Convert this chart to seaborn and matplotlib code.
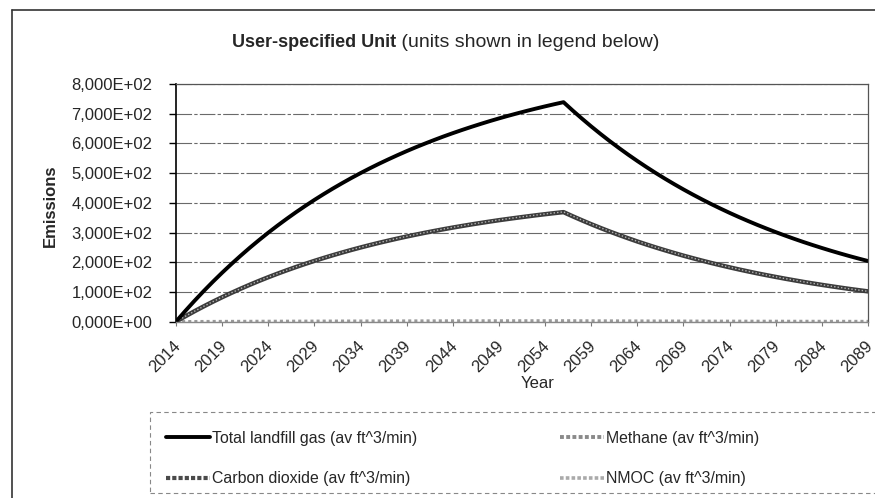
import matplotlib
matplotlib.use("Agg")
import matplotlib.pyplot as plt
import matplotlib.ticker as mticker
import matplotlib.transforms as mtrans
from matplotlib.lines import Line2D
from matplotlib.patches import Rectangle
import pandas as pd
import seaborn as sns

# ---------------- data ----------------
years = list(range(2014, 2090))
tick_years = list(range(2014, 2090, 5))

total_lfg = [0, 35.6, 69.8, 102.7, 134.3, 164.6, 193.7, 221.7, 248.7, 274.5,
             299.4, 323.2, 346.1, 368.2, 389.3, 409.7, 429.2, 448.0, 466.0, 483.4,
             500.0, 516.0, 531.4, 546.1, 560.3, 574.0, 587.1, 599.6, 611.7, 623.4,
             634.5, 645.2, 655.5, 665.4, 675.0, 684.1, 692.9, 701.3, 709.4, 717.2,
             724.7, 731.9, 738.8,
             710.5, 683.4, 657.2, 632.1, 607.9, 584.7, 562.3, 540.8, 520.1, 500.2,
             481.1, 462.7, 445.0, 428.0, 411.6, 395.8, 380.7, 366.1, 352.1, 338.7,
             325.7, 313.3, 301.3, 289.8, 278.7, 268.0, 257.8, 247.9, 238.4, 229.3,
             220.5, 212.1, 204.0]

methane = [0, 17.8, 34.9, 51.4, 67.2, 82.3, 96.9, 110.9, 124.4, 137.3,
           149.7, 161.6, 173.1, 184.1, 194.7, 204.9, 214.6, 224.0, 233.0, 241.7,
           250.0, 258.0, 265.7, 273.1, 280.2, 287.0, 293.6, 299.8, 305.9, 311.7,
           317.3, 322.6, 327.8, 332.7, 337.5, 342.1, 346.5, 350.7, 354.7, 358.6,
           362.4, 366.0, 369.4,
           355.3, 341.7, 328.6, 316.1, 304.0, 292.4, 281.2, 270.4, 260.1, 250.1,
           240.6, 231.4, 222.5, 214.0, 205.8, 197.9, 190.4, 183.1, 176.1, 169.4,
           162.9, 156.7, 150.7, 144.9, 139.4, 134.0, 128.9, 124.0, 119.2, 114.7,
           110.3, 106.1, 102.0]

carbon_dioxide = [0, 17.7, 34.8, 51.2, 67.0, 82.1, 96.6, 110.6, 124.1, 137.0,
                  149.4, 161.3, 172.7, 183.7, 194.3, 204.4, 214.1, 223.5, 232.5, 241.2,
                  249.5, 257.5, 265.2, 272.5, 279.6, 286.4, 292.9, 299.2, 305.2, 311.0,
                  316.6, 321.9, 327.1, 332.0, 336.8, 341.4, 345.7, 349.9, 353.9, 357.9,
                  361.6, 365.2, 368.6,
                  354.5, 341.0, 327.9, 315.4, 303.3, 291.8, 280.6, 269.8, 259.5, 249.6,
                  240.1, 230.9, 222.0, 213.6, 205.4, 197.5, 190.0, 182.7, 175.7, 169.0,
                  162.5, 156.3, 150.4, 144.6, 139.1, 133.7, 128.6, 123.7, 119.0, 114.4,
                  110.0, 105.8, 101.8]

nmoc = [0, 0.14, 0.28, 0.41, 0.54, 0.66, 0.77, 0.89, 0.99, 1.10,
        1.20, 1.29, 1.38, 1.47, 1.56, 1.64, 1.72, 1.79, 1.86, 1.93,
        2.00, 2.06, 2.13, 2.18, 2.24, 2.30, 2.35, 2.40, 2.45, 2.49,
        2.54, 2.58, 2.62, 2.66, 2.70, 2.74, 2.77, 2.81, 2.84, 2.87,
        2.90, 2.93, 2.96,
        2.84, 2.73, 2.63, 2.53, 2.43, 2.34, 2.25, 2.16, 2.08, 2.00,
        1.92, 1.85, 1.78, 1.71, 1.65, 1.58, 1.52, 1.46, 1.41, 1.35,
        1.30, 1.25, 1.21, 1.16, 1.11, 1.07, 1.03, 0.99, 0.95, 0.92,
        0.88, 0.85, 0.82]

series_labels = ["Total landfill gas (av ft^3/min)", "Methane (av ft^3/min)",
                 "Carbon dioxide (av ft^3/min)", "NMOC (av ft^3/min)"]
y_ticks = [0, 100, 200, 300, 400, 500, 600, 700, 800]

df = pd.DataFrame({"Year": years, "total": total_lfg, "methane": methane,
                   "co2": carbon_dioxide, "nmoc": nmoc})

# ---------------- figure ----------------
sns.set_theme(style="white")
plt.rcParams["font.family"] = ["Liberation Sans", "DejaVu Sans"]

W, H = 875, 498
fig = plt.figure(figsize=(W / 100, H / 100), dpi=100)


def fx(px):
    return px / W


def fy(py):
    return 1 - py / H


ax_left, ax_right, ax_top, ax_bot = 176, 868, 84, 321.6
ax = fig.add_axes([fx(ax_left), fy(ax_bot), fx(ax_right - ax_left), (ax_bot - ax_top) / H])

# grid
ax.set_axisbelow(True)
ax.yaxis.grid(True, color="#6a6a6a", lw=0.8, linestyle=(0, (14, 2, 3, 2)))

# series
sty = {
    "total": dict(color="black", lw=2.8),
    "co2": dict(color="#3c3c3c", lw=3.2),
    "methane": dict(color="#b4b4b4", lw=1.0, linestyle=(0, (1, 1.5))),
    "nmoc": dict(color="#9a9a9a", lw=2.2, linestyle=(0, (1, 1))),
}
sns.lineplot(data=df, x="Year", y="nmoc", ax=ax, legend=False, **sty["nmoc"])
sns.lineplot(data=df, x="Year", y="co2", ax=ax, legend=False, **sty["co2"])
sns.lineplot(data=df, x="Year", y="methane", ax=ax, legend=False, **sty["methane"])
sns.lineplot(data=df, x="Year", y="total", ax=ax, legend=False, **sty["total"])

ax.set_xlim(2014, 2089)
ax.set_ylim(0, 800)
ax.set_yticks(y_ticks)
ax.yaxis.set_major_formatter(mticker.FuncFormatter(
    lambda v, p: "0,000E+00" if v == 0 else ("%.3f" % (v / 100)).replace(".", ",") + "E+02"))
ax.set_xticks(tick_years)
ax.set_xticklabels([str(y) for y in tick_years], rotation=45, ha="right",
                   va="center", rotation_mode="anchor")
ax.set_xlabel("")
ax.set_ylabel("")

ax.tick_params(axis="y", which="major", left=True, length=5, width=1, color="black",
               labelsize=12, pad=12)
ax.tick_params(axis="x", which="major", bottom=True, length=3, width=0.8, color="#777777",
               labelsize=12, pad=13)
offset = mtrans.ScaledTranslation(2 / 100, 0, fig.dpi_scale_trans)
for lbl in ax.get_xticklabels():
    lbl.set_transform(lbl.get_transform() + offset)

for s in ["top", "right", "bottom", "left"]:
    ax.spines[s].set_visible(True)
ax.spines["left"].set_color("black")
ax.spines["left"].set_linewidth(1.2)
ax.spines["top"].set_color("#555555")
ax.spines["top"].set_linewidth(0.9)
ax.spines["top"].set_linestyle((0, (3, 1)))
ax.spines["right"].set_color("#555555")
ax.spines["right"].set_linewidth(0.9)
ax.spines["right"].set_linestyle((0, (2, 1)))
ax.spines["bottom"].set_color("#888888")
ax.spines["bottom"].set_linewidth(1.0)
ax.spines["bottom"].set_linestyle((0, (2, 1)))

# axis titles
fig.text(fx(50), fy(206), "Emissions", rotation=90, ha="center", va="center",
         fontsize=12, fontweight="bold")
fig.text(fx(538), fy(383), "Year", ha="center", va="center", fontsize=12)

# title: bold part + normal part
t1 = fig.text(fx(232), fy(47), "User-specified Unit", ha="left", va="baseline",
              fontsize=13, fontweight="bold")
ax.annotate(" (units shown in legend below)", xy=(1, 0), xycoords=t1,
            xytext=(0, 0), textcoords="offset points",
            ha="left", va="bottom", fontsize=14, annotation_clip=False)

# outer chart border
fig.add_artist(Line2D([fx(12), fx(12)], [fy(10), fy(500)], color="#333333", lw=1.2))
fig.add_artist(Line2D([fx(12), fx(880)], [fy(10), fy(10)], color="#333333", lw=1.2))

# legend frame
fig.add_artist(Rectangle((fx(150), fy(493)), fx(740), (493 - 412) / H,
                         fill=False, edgecolor="#888888", lw=0.8,
                         linestyle=(0, (4, 3)), clip_on=False))

handles = [
    Line2D([], [], **sty["total"]),
    Line2D([], [], color="#4a4a4a", lw=3.0, linestyle=(0, (1, 0.5))),
    Line2D([], [], color="#8a8a8a", lw=2.8, linestyle=(0, (1, 0.6))),
    Line2D([], [], color="#aaaaaa", lw=2.6, linestyle=(0, (1, 0.6))),
]
labels = [series_labels[0], series_labels[2], series_labels[1], series_labels[3]]
fig.legend(handles, labels, ncol=2, loc="upper left",
           bbox_to_anchor=(fx(166), fy(431)), frameon=False, fontsize=11.4,
           borderpad=0, borderaxespad=0, handlelength=2.8, handletextpad=0.1,
           labelspacing=1.6, columnspacing=9.0)

fig.savefig("out.png", dpi=100)
